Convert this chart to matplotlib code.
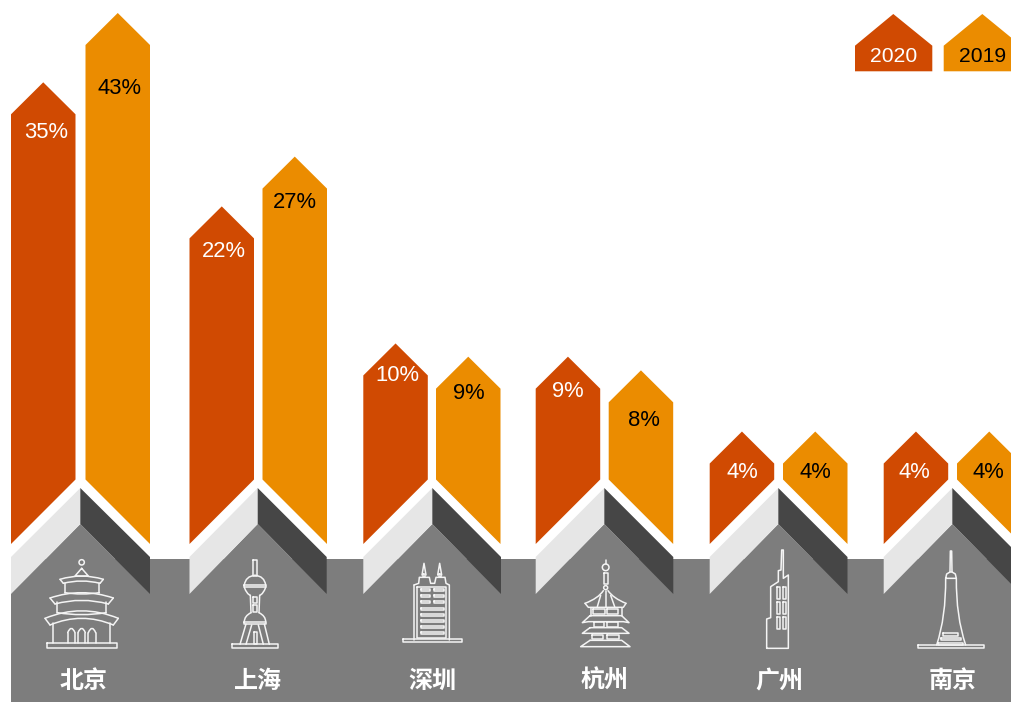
import numpy as np
import matplotlib
matplotlib.use("Agg")
import matplotlib.pyplot as plt
from matplotlib.path import Path
from matplotlib.patches import PathPatch, Polygon, Rectangle, Circle

# 各城市占比（%）
cities = ["北京", "上海", "深圳", "杭州", "广州", "南京"]
values_2020 = [35, 22, 10, 9, 4, 4]
values_2019 = [43, 27, 9, 8, 4, 4]
legend_years = ["2020", "2019"]

RED = "#D04A02"
ORANGE = "#EB8C00"
GREY = "#7D7D7D"
DARK = "#464646"
LIGHT = "#E6E6E6"
LINE = "#F4F4F4"

# 版面位置，单位为像素
W, H = 1012, 702
bar_w = 64.5
red_left = [11, 189.5, 363.3, 535.7, 709.7, 883.7]
orange_left = [85.5, 262.5, 436, 608.7, 783, 957]
apex_x = [80.3, 257.7, 432.3, 604.3, 778.3, 952.3]
band_right = [150, 326.7, 501, 673.3, 847.5, 1021]
city_x = [84, 258, 432, 605, 779, 953]
label_drop_red = [18, 13, 0, 3, 9, 9]
label_drop_orange = [43, 14, 5, 18, 9, 9]
label_dx_red = [2.7, 1.7, 1.5, 0, 0, -2]
label_dx_orange = [1.7, 0.3, 0.8, 3, -0.2, -1.2]

fig = plt.figure(figsize=(W / 100, H / 100), dpi=100)
ax = fig.add_axes([0, 0, 1, 1])
ax.set_xlim(0, W)
ax.set_ylim(H, 0)
ax.axis("off")

# 数值轴：幂函数刻度，0 在 y=529.5，43 在 y=13
base_px, top_px = 529.5, 13
ax_val = fig.add_axes([0, (H - base_px) / H, 1, (base_px - top_px) / H])
ax_val.set_yscale("function", functions=(lambda v: np.maximum(v, 0) ** 0.7,
                                         lambda t: np.maximum(t, 0) ** (1 / 0.7)))
ax_val.set_ylim(0, max(values_2019))
ax_val.axis("off")


def peak_y(value):
    disp = ax_val.transData.transform((0, value))
    return ax.transData.inverted().transform(disp)[1]


def arrow_bar(left, value, color, low_left):
    # 五边形柱子，底部切成斜角
    right = left + bar_w
    mid = left + bar_w / 2
    peak = peak_y(value)
    shoulder = peak + 32
    y_l, y_r = (544, 479.5) if low_left else (479.5, 544)
    pts = [(left, shoulder), (mid, peak), (right, shoulder), (right, y_r), (left, y_l)]
    ax.add_patch(Polygon(pts, closed=True, fc=color, ec="none"))
    return mid, shoulder


# 灰色底板
ax.add_patch(Rectangle((11, 559), W - 11, H - 559, fc=GREY, ec="none"))

for i in range(len(cities)):
    l, a, r = red_left[i], apex_x[i], band_right[i]
    ax.add_patch(Polygon([(l, 594), (a, 524), (r, 594)], fc=GREY, ec="none"))
    ax.add_patch(Polygon([(l, 557), (a, 488), (a, 524), (l, 594)], fc=LIGHT, ec="none"))
    ax.add_patch(Polygon([(a, 488), (r, 557), (r, 594), (a, 524)], fc=DARK, ec="none"))

    mid, sh = arrow_bar(red_left[i], values_2020[i], RED, True)
    ax.text(mid + label_dx_red[i], sh + label_drop_red[i], f"{values_2020[i]}%", color="white",
            fontsize=15.8, family="Liberation Sans", ha="center", va="center")
    mid, sh = arrow_bar(orange_left[i], values_2019[i], ORANGE, False)
    ax.text(mid + label_dx_orange[i], sh + label_drop_orange[i], f"{values_2019[i]}%", color="black",
            fontsize=15.8, family="Liberation Sans", ha="center", va="center")

    ax.text(city_x[i], 681, cities[i], color="white", fontsize=17.3, fontweight="bold",
            family="Noto Sans CJK SC", ha="center", va="center")

# 图例
for lx, px, rx, year, col, tc in [(855, 893.3, 932.3, legend_years[0], RED, "white"),
                                  (943.7, 982.3, 1021, legend_years[1], ORANGE, "black")]:
    ax.add_patch(Polygon([(lx, 71.3), (lx, 45.7), (px, 14), (rx, 45.7), (rx, 71.3)],
                         fc=col, ec="none"))
    ax.text(px, 56, year, color=tc, fontsize=15.2, family="Liberation Sans",
            ha="center", va="center")


# 以下是建筑线稿，坐标以 3 倍放大的局部坐标书写
class Icon:
    def __init__(self, ox):
        self.ox = ox

    def p(self, pt):
        return (self.ox + pt[0] / 3, 470 + pt[1] / 3)

    def _add(self, verts, codes, lw=1.1):
        ax.add_patch(PathPatch(Path(verts, codes), fc="none", ec=LINE, lw=lw,
                               capstyle="round", joinstyle="round"))

    def line(self, *pts, closed=False, lw=1.1):
        pts = [self.p(q) for q in pts]
        if closed:
            pts.append(pts[0])
        codes = [Path.MOVETO] + [Path.LINETO] * (len(pts) - 1)
        self._add(pts, codes, lw)

    def curve(self, a, c, b, lw=1.1):
        self._add([self.p(a), self.p(c), self.p(b)], [Path.MOVETO, Path.CURVE3, Path.CURVE3], lw)

    def box(self, x0, y0, x1, y1, lw=1.1):
        self.line((x0, y0), (x1, y0), (x1, y1), (x0, y1), closed=True, lw=lw)

    def ring(self, x, y, r):
        ax.add_patch(Circle(self.p((x, y)), r / 3, fc="none", ec=LINE, lw=1.1))


# 北京 天坛
b = Icon(0)
b.ring(245, 277, 8)
b.line((245, 295), (225, 318), (265, 318), closed=True)
b.curve((180, 328), (245, 308), (310, 328))
b.line((180, 328), (190, 340))
b.line((310, 328), (300, 340))
b.curve((190, 340), (245, 326), (300, 340))
b.line((195, 338), (195, 368))
b.line((298, 338), (298, 368))
b.curve((195, 368), (245, 376), (298, 368))
b.curve((150, 384), (245, 352), (340, 384))
b.line((150, 384), (165, 402))
b.line((340, 384), (325, 402))
b.curve((165, 402), (245, 380), (325, 402))
b.line((172, 396), (172, 428))
b.line((318, 396), (318, 428))
b.curve((172, 428), (245, 440), (318, 428))
b.curve((135, 445), (245, 400), (355, 445))
b.line((135, 445), (150, 465))
b.line((355, 445), (340, 465))
b.curve((150, 465), (245, 425), (340, 465))
b.line((160, 458), (160, 520))
b.line((330, 458), (330, 520))
for x0 in (203, 234, 265):
    b.line((x0, 518), (x0, 488))
    b.line((x0 + 22, 518), (x0 + 22, 488))
    b.curve((x0, 488), (x0 + 11, 462), (x0 + 22, 488))
b.box(140, 520, 350, 535)

# 上海 东方明珠
s = Icon(0)
s.box(760, 270, 770, 318)
s.curve((733, 345), (737, 318), (765, 316))
s.curve((797, 345), (793, 318), (765, 316))
s.box(733, 345, 797, 352)
s.curve((733, 352), (740, 372), (751, 376))
s.curve((797, 352), (790, 372), (779, 376))
s.line((751, 376), (753, 428))
s.line((779, 376), (777, 428))
s.box(760, 380, 770, 398)
s.box(760, 405, 770, 425)
s.curve((753, 428), (733, 438), (733, 455))
s.curve((777, 428), (797, 438), (797, 455))
s.box(733, 455, 797, 462)
s.line((738, 462), (720, 523))
s.line((755, 465), (738, 523))
s.line((775, 465), (790, 523))
s.line((793, 462), (808, 523))
s.box(762, 485, 771, 523)
s.box(697, 523, 833, 535)

# 深圳
z = Icon(340)
for cx in (252, 299):
    z.line((cx - 6, 315), (cx, 280), (cx + 6, 315))
    z.box(cx - 3, 312, cx + 3, 320)
z.line((222, 345), (236, 340), (238, 322), (268, 322), (272, 340), (284, 340),
       (288, 322), (315, 322), (318, 340), (328, 345), (328, 510))
z.line((222, 345), (222, 510))
z.line((232, 352), (318, 352), (318, 505), (232, 505), closed=True)
for wy in (360, 378, 397):
    z.box(243, wy - 3, 270, wy + 3)
    z.box(282, wy - 3, 312, wy + 3)
for wy in (416, 434, 452, 470, 489):
    z.box(243, wy - 3, 312, wy + 3)
z.box(190, 506, 367, 515)

# 杭州 六和塔
h = Icon(340)
h.line((797, 270), (797, 282))
h.ring(797, 292, 10)
h.box(792, 310, 803, 342)
h.ring(797, 353, 6)
h.curve((790, 362), (775, 385), (735, 400))
h.curve((804, 362), (820, 385), (858, 400))
h.line((735, 400), (745, 412), (850, 412), (858, 400))
h.line((782, 376), (772, 410))
h.line((812, 376), (824, 410))
h.line((797, 364), (797, 410))
h.box(760, 418, 795, 433)
h.box(800, 418, 835, 433)
h.line((752, 413), (752, 437))
h.line((845, 413), (845, 437))
h.line((750, 437), (727, 458), (745, 455), (850, 455), (867, 458), (845, 437), closed=True)
h.box(762, 457, 793, 470)
h.box(800, 457, 833, 470)
h.line((750, 473), (727, 490), (867, 490), (845, 473), closed=True)
h.box(755, 495, 790, 508)
h.box(800, 495, 838, 508)
h.line((750, 511), (722, 530), (870, 530), (845, 511), closed=True)

# 广州
g = Icon(680)
g.line((260, 535), (260, 447), (272, 443), (272, 350), (295, 335), (295, 302), (303, 300),
       (305, 240), (310, 240), (310, 325), (325, 315), (325, 535), closed=True)
for wy in (352, 397, 442):
    g.box(290, wy, 300, wy + 36)
    g.box(309, wy, 319, wy + 36)

# 南京
n = Icon(680)
n.line((810, 305), (811, 243), (815, 243), (816, 305))
n.line((797, 325), (800, 312), (810, 306), (816, 306), (826, 312), (829, 325), closed=True)
n.curve((797, 325), (798, 440), (770, 525))
n.curve((829, 325), (828, 440), (857, 525))
n.box(715, 525, 912, 535)
n.box(790, 490, 835, 497)
n.box(783, 504, 842, 511)
n.box(775, 518, 850, 524)

fig.savefig("out.png", dpi=100)
